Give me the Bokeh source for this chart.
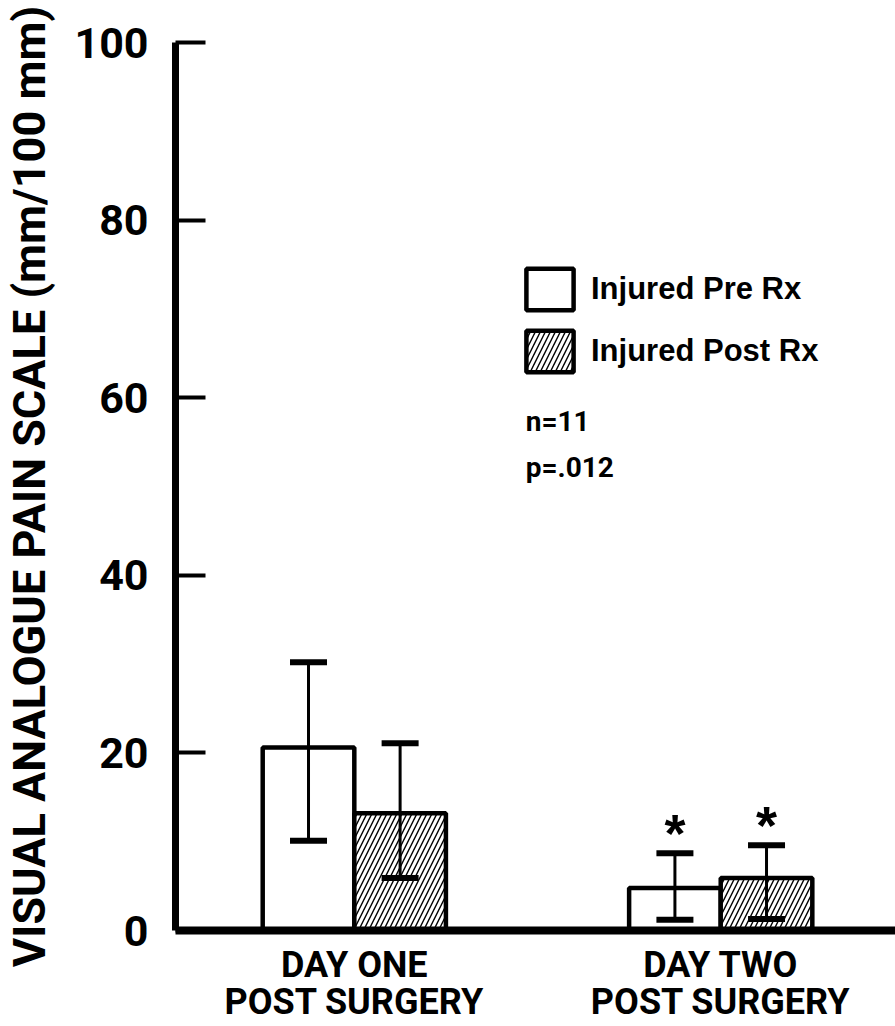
from bokeh.plotting import figure
from bokeh.models import (ColumnDataSource, Range1d, FixedTicker, Whisker, TeeHead,
                          Legend, LegendItem, Label)
from bokeh.core.properties import value
from bokeh.embed import file_html
from bokeh.resources import INLINE

# ---- data ----
days = ["DAY ONE\nPOST SURGERY", "DAY TWO\nPOST SURGERY"]
day_pos = [1, 2]
pre_mean = [20.6, 4.8]
pre_upper = [30.2, 8.7]
pre_lower = [10.1, 1.2]
post_mean = [13.2, 5.9]
post_upper = [21.1, 9.6]
post_lower = [5.9, 1.3]
y_ticks = [0, 20, 40, 60, 80, 100]
legend_labels = ["Injured Pre Rx", "Injured Post Rx"]
stats_text = ["n=11", "p=.012"]
signif = ["*", "*"]

NARROW = "Roboto"
WIDE = "Liberation Sans"

bar_w = 0.25
offset = 0.125

p = figure(width=895, height=1026, output_backend="svg", toolbar_location=None,
           x_range=Range1d(0.512, 2.477), y_range=Range1d(0, 100))
p.min_border_left = 174
p.min_border_right = 0
p.min_border_top = 42
p.min_border_bottom = 95
p.outline_line_color = None
p.grid.visible = False
p.background_fill_color = "white"
p.border_fill_color = "white"

pre_src = ColumnDataSource(dict(x=[d - offset for d in day_pos], top=pre_mean,
                                upper=pre_upper, lower=pre_lower))
post_src = ColumnDataSource(dict(x=[d + offset for d in day_pos], top=post_mean,
                                 upper=post_upper, lower=post_lower))

r_pre = p.vbar(x="x", top="top", width=bar_w, bottom=0, source=pre_src,
               fill_color="white", line_color="black", line_width=4.5)
r_post = p.vbar(x="x", top="top", width=bar_w, bottom=0, source=post_src,
                fill_color="white", line_color="black", line_width=4.5,
                hatch_pattern="/", hatch_color="black", hatch_weight=1.4, hatch_scale=10)

for src in (pre_src, post_src):
    w = Whisker(base="x", upper="upper", lower="lower", source=src,
                line_color="black", line_width=3, level="overlay",
                upper_head=TeeHead(size=37, line_width=6, line_color="black"),
                lower_head=TeeHead(size=37, line_width=6, line_color="black"))
    p.add_layout(w)

# significance asterisks over day two
ast_src = ColumnDataSource(dict(x=[day_pos[1] - offset, day_pos[1] + offset],
                                y=[pre_upper[1], post_upper[1]], t=signif))
p.text(x="x", y="y", text="t", source=ast_src, text_font=value(WIDE),
       text_font_style="bold", text_font_size="54px", text_align="center",
       text_baseline="middle", y_offset=-20, text_color="black")

# axes
ya = p.yaxis[0]
ya.ticker = FixedTicker(ticks=y_ticks)
ya.axis_line_width = 7
ya.axis_line_color = "black"
ya.major_tick_line_width = 4
ya.major_tick_line_color = "black"
ya.major_tick_in = 30
ya.major_tick_out = 0
ya.minor_tick_line_color = None
ya.major_label_text_font = NARROW
ya.major_label_text_font_style = "bold"
ya.major_label_text_font_size = "43px"
ya.major_label_text_color = "black"
ya.major_label_standoff = 27
ya.axis_label = "VISUAL ANALOGUE PAIN SCALE (mm/100 mm)"
ya.axis_label_text_font = NARROW
ya.axis_label_text_font_style = "bold"
ya.axis_label_text_font_size = "45px"
ya.axis_label_text_color = "black"
ya.axis_label_standoff = 15

xa = p.xaxis[0]
xa.ticker = FixedTicker(ticks=day_pos)
xa.major_label_overrides = {pos: lab for pos, lab in zip(day_pos, days)}
xa.axis_line_width = 8
xa.axis_line_color = "black"
xa.major_tick_line_color = None
xa.minor_tick_line_color = None
xa.major_label_text_font = NARROW
xa.major_label_text_font_style = "bold"
xa.major_label_text_font_size = "36px"
xa.major_label_text_color = "black"
xa.major_label_text_line_height = 0.9
xa.major_label_standoff = 7

legend = Legend(items=[LegendItem(label=legend_labels[0], renderers=[r_pre]),
                       LegendItem(label=legend_labels[1], renderers=[r_post])],
                location=(345, 553), glyph_width=59, glyph_height=52, spacing=10,
                padding=0, margin=0, border_line_color=None, background_fill_alpha=0,
                label_standoff=12, label_text_font=WIDE, label_text_font_style="bold",
                label_text_font_size="31px", label_height=52, label_text_color="black")
p.add_layout(legend)

p.add_layout(Label(x=1.468, y=57.3, text=stats_text[0], text_font=NARROW,
                   text_font_style="bold", text_font_size="28px", text_color="black",
                   text_baseline="alphabetic"))
p.add_layout(Label(x=1.468, y=52.1, text=stats_text[1], text_font=NARROW,
                   text_font_style="bold", text_font_size="28px", text_color="black",
                   text_baseline="alphabetic"))

open("out.html", "w").write(file_html(p, INLINE))
